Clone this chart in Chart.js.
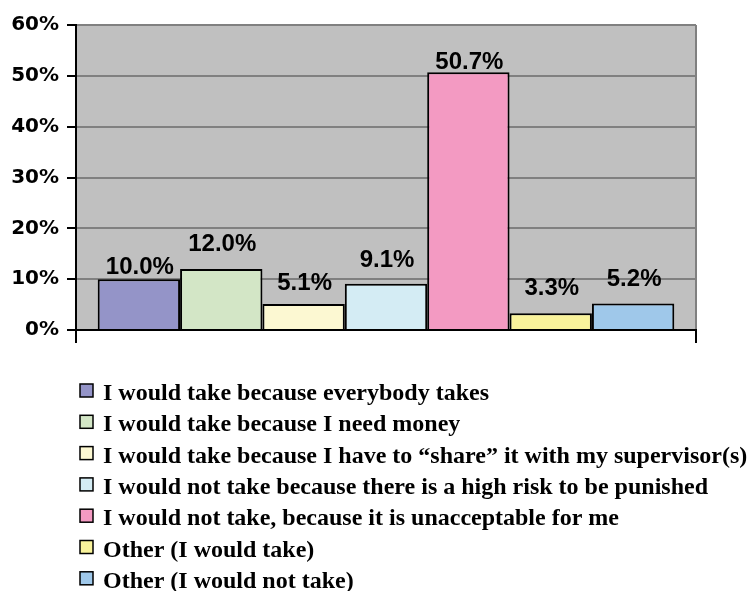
<!DOCTYPE html>
<html>
<head>
<meta charset="utf-8">
<script src="https://cdn.jsdelivr.net/npm/chart.js@4.4.1/dist/chart.umd.min.js"></script>
<style>
  html, body { margin: 0; padding: 0; background: #ffffff; }
  #wrap { width: 751px; height: 591px; position: relative; }
</style>
</head>
<body>
<div id="wrap"><canvas id="c" width="751" height="591"></canvas></div>
<script>
// ---- data ----
const categories = [''];
const seriesLabels = [
  'I would take because everybody takes',
  'I would take because I need money',
  'I would take because I have to \u201Cshare\u201D it with my supervisor(s)',
  'I would not take because there is a high risk to be punished',
  'I would not take, because it is unacceptable for me',
  'Other (I would take)',
  'Other (I would not take)'
];
const seriesValues = [10.0, 12.0, 5.1, 9.1, 50.7, 3.3, 5.2];
const yTicks = [0, 10, 20, 30, 40, 50, 60];

// ---- styles ----
const seriesColors = ['#9494C8', '#D3E6C6', '#FCF8D2', '#D4ECF4', '#F39AC2', '#F9F39B', '#9FC8EA'];
const labelGaps = [5, 18, 14, 17, 3, 18, 18];

const datasets = seriesLabels.map((lab, i) => ({
  label: lab,
  data: [seriesValues[i]],
  backgroundColor: seriesColors[i],
  borderColor: '#000000',
  borderWidth: 2,
  categoryPercentage: 0.93,
  barPercentage: 1.0
}));

const plotBg = {
  id: 'plotBg',
  beforeDraw(chart) {
    const {ctx, chartArea: a} = chart;
    ctx.save();
    ctx.fillStyle = '#C0C0C0';
    ctx.fillRect(a.left, a.top, a.right - a.left, a.bottom - a.top);
    ctx.restore();
  }
};

const valueLabels = {
  id: 'valueLabels',
  afterDatasetsDraw(chart) {
    const ctx = chart.ctx;
    ctx.save();
    ctx.font = 'bold 24px "Liberation Sans", Arial, sans-serif';
    ctx.fillStyle = '#000';
    ctx.textAlign = 'center';
    ctx.textBaseline = 'alphabetic';
    chart.data.datasets.forEach((ds, i) => {
      const el = chart.getDatasetMeta(i).data[0];
      ctx.fillText(ds.data[0].toFixed(1) + '%', el.x + 1, el.y - labelGaps[i]);
    });
    ctx.restore();
  }
};

const listLegend = {
  id: 'listLegend',
  afterDraw(chart) {
    const ctx = chart.ctx;
    const x0 = 80, y0 = 390.5, step = 31.3, box = 13;
    ctx.save();
    ctx.font = 'bold 24px "Liberation Serif", "Times New Roman", serif';
    ctx.textAlign = 'left';
    ctx.textBaseline = 'alphabetic';
    chart.data.datasets.forEach((ds, i) => {
      const cy = y0 + i * step;
      ctx.fillStyle = ds.backgroundColor;
      ctx.fillRect(x0, cy - box / 2, box, box);
      ctx.strokeStyle = '#000';
      ctx.lineWidth = 1.5;
      ctx.strokeRect(x0, cy - box / 2, box, box);
      ctx.fillStyle = '#000';
      ctx.fillText(ds.label, 103, cy + 9.5);
    });
    ctx.restore();
  }
};

new Chart(document.getElementById('c'), {
  type: 'bar',
  data: { labels: categories, datasets: datasets },
  plugins: [plotBg, valueLabels, listLegend],
  options: {
    responsive: false,
    animation: false,
    devicePixelRatio: 1,
    layout: { padding: { left: 0, top: 25, right: 55, bottom: 248 } },
    plugins: {
      legend: { display: false },
      tooltip: { enabled: false }
    },
    scales: {
      x: {
        offset: true,
        afterFit(s) { s.height = 13; },
        grid: {
          offset: true,
          color: '#808080',
          tickColor: '#000000',
          lineWidth: 2,
          tickLength: 13,
          drawOnChartArea: true,
          drawTicks: true
        },
        border: { color: '#000000', width: 2 },
        ticks: { display: false }
      },
      y: {
        min: 0,
        max: 60,
        afterFit(s) { s.width = 76; },
        afterBuildTicks(s) { s.ticks = yTicks.map(v => ({ value: v })); },
        grid: {
          color: '#808080',
          tickColor: '#000000',
          lineWidth: 2,
          tickLength: 9
        },
        border: { color: '#000000', width: 2 },
        ticks: {
          padding: 8,
          color: '#000000',
          font: { family: '"DejaVu Sans", sans-serif', weight: 'bold', size: 20 },
          callback: v => v + '%'
        }
      }
    }
  }
});
</script>
</body>
</html>
